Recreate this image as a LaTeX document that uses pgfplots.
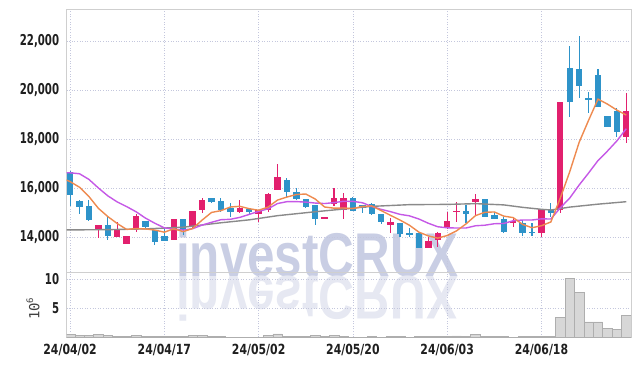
\documentclass[border=0pt]{standalone}
\usepackage{fontspec}
\usepackage{pgfplots}
\usepackage{pgfplotstable}
\pgfplotsset{compat=1.18}
\newfontfamily\tickfontY{DejaVu Sans}[FakeStretch=0.68]
\newfontfamily\tickfontX{DejaVu Sans}[FakeStretch=0.78]
\newfontfamily\wmfont{Liberation Sans}
\newfontfamily\labmono{DejaVu Sans Mono}
\definecolor{upc}{HTML}{E2206E}
\definecolor{dnc}{HTML}{2E93C9}
\definecolor{maf}{HTML}{EE8A4F}
\definecolor{mam}{HTML}{C558E6}
\definecolor{mal}{HTML}{8A8A8A}
\definecolor{gridc}{HTML}{C4C7DD}
\definecolor{framec}{HTML}{CFCFCF}
\definecolor{wm}{HTML}{C9CEE4}
\definecolor{wmr}{HTML}{E6E8F2}
\definecolor{volf}{HTML}{D7D7D7}
\definecolor{vold}{HTML}{AEAEAE}
\pgfdeclarelayer{background}
\pgfsetlayers{background,main}

\pgfplotstableread{
i o h l c
3 14330 14500 13960 14490
5 13990 14610 13990 14285
6 13710 14060 13700 14040
7 14380 14930 14220 14860
11 13880 14740 13880 14735
13 14420 15060 14380 15060
14 15100 15590 14980 15510
18 15030 15510 14980 15200
20 14940 15100 14620 15100
21 15100 15780 15030 15740
22 15920 16970 15900 16460
27 14730 14830 14720 14830
28 15330 15990 15270 15580
29 15100 15780 14720 15580
34 14490 14760 14180 14600
38 13540 14010 13540 13850
39 13880 14210 13580 14150
40 14420 15030 14310 14650
41 15020 15440 14620 15070
43 15440 15750 14900 15540
47 14560 14760 14420 14650
50 14150 15130 14010 15130
52 15100 19520 14990 19520
59 18070 19870 17850 19140
}\up

\pgfplotstableread{
i o h l c
0 16650 16680 15280 15710
1 15480 15520 14940 15240
2 15265 15500 14650 14690
4 14490 14830 13880 14040
8 14650 14650 14330 14420
9 14285 14285 13670 13810
10 14050 14420 13830 13850
12 14735 14735 14100 14285
15 15600 15600 15400 15420
16 15470 15580 15000 15100
17 15170 15375 14830 15030
19 15140 15200 14950 15030
23 16330 16400 15580 15820
24 15820 15990 15500 15540
25 15540 15540 15200 15210
26 15300 15300 14490 14720
30 15580 15620 15050 15070
31 15300 15300 14970 15170
32 15350 15400 14900 14940
33 14940 14940 14530 14625
35 14560 14560 14010 14120
36 14175 14350 14010 14110
37 14175 14175 13540 13540
42 15060 15300 14580 14950
44 15540 15540 14830 14830
45 14900 15030 14720 14720
46 14720 14800 14150 14220
48 14560 14690 14040 14150
49 14220 14580 14040 14150
51 15100 15375 14830 14990
53 20885 21800 18885 19520
54 20845 22200 19660 20160
55 19690 19930 19050 19610
56 20610 20840 19300 19320
57 18940 18940 18500 18500
58 19140 19260 18090 18300
}\dn

\pgfplotstableread{
i v
0 0.55
1 0.3
2 0.3
3 0.45
4 0.3
5 0.12
6 0.12
7 0.3
8 0.12
9 0.1
10 0.1
11 0.1
12 0.1
13 0.3
14 0.3
15 0.12
16 0.12
17 0.05
18 0.05
19 0.05
20 0.05
21 0.3
22 0.6
23 0.12
24 0.12
25 0.1
26 0.3
27 0.1
28 0.3
29 0.12
30 0.05
31 0.05
32 0.12
33 0.05
34 0.12
35 0.12
36 0.05
37 0.12
38 0.12
39 0.12
40 0.12
41 0.25
42 0.12
43 0.45
44 0.12
45 0.12
46 0.12
47 0.05
48 0.12
49 0.12
50 0.12
51 0.12
52 3.45
53 10.17
54 7.76
55 2.64
56 2.64
57 1.55
58 1.38
59 3.79
}\vol

\pgfplotsset{
  candlewick/.style={forget plot, mark=none, draw=none,
    error bars/.cd, y dir=both, y explicit, error mark=none,
    error bar style={draw=#1, line width=1.1bp, solid}},
  candlebody/.style={forget plot, mark=none, draw=none,
    error bars/.cd, y dir=both, y explicit, error mark=none,
    error bar style={draw=#1, line width=6.4bp, solid}},
}

\begin{document}
\begin{tikzpicture}
\begin{axis}[
  name=price,
  scale only axis, width=564.3bp, height=263bp,
  xmin=-0.36, xmax=59.5, ymin=12560, ymax=23290,
  axis line style={draw=framec, line width=0.8bp},
  xtick={0,10,20,30,40,50}, xticklabels={,,,,,},
  ytick={14000,16000,18000,20000,22000},
  scaled y ticks=false,
  /pgf/number format/1000 sep={,},
  /pgf/number format/assume math mode=true,
  yticklabel style={font=\tickfontY\bfseries\fontsize{15}{15}\selectfont, text=black!88, anchor=east, inner sep=0pt, xshift=-7.4bp},
  major tick length=0pt,
  grid=major,
  major grid style={draw=gridc, dash pattern=on 1bp off 1.6bp, line width=0.6bp},
]
\addplot[candlewick=dnc] table[x=i, y expr={(\thisrow{h}+\thisrow{l})/2}, y error expr={(\thisrow{h}-\thisrow{l})/2}] {\dn};
\addplot[candlewick=upc] table[x=i, y expr={(\thisrow{h}+\thisrow{l})/2}, y error expr={(\thisrow{h}-\thisrow{l})/2}] {\up};
\addplot[candlebody=dnc] table[x=i, y expr={(\thisrow{o}+\thisrow{c})/2}, y error expr={max(abs(\thisrow{c}-\thisrow{o})/2,35)}] {\dn};
\addplot[candlebody=upc] table[x=i, y expr={(\thisrow{o}+\thisrow{c})/2}, y error expr={max(abs(\thisrow{c}-\thisrow{o})/2,35)}] {\up};
% long moving average
\addplot[mal, line width=1.4bp, mark=none] coordinates {
(-1,14285) (0,14290) (4,14300) (8,14330) (12,14400) (16,14580) (19,14700) (22,14870) (26,15030) (29,15140) (32,15250) (36,15320) (40,15330) (43,15360) (46,15310) (48,15210) (50,15130) (51,15100) (53,15220) (56,15340) (59,15440)};
% 10-day
\addplot[mam, line width=1.4bp, mark=none] coordinates {
(-1,16620) (0,16620) (1,16580) (2,16350) (3,16000) (4,15680) (5,15430) (6,15240) (7,15030) (8,14770) (9,14559) (10,14373) (11,14322) (12,14282) (13,14339) (14,14486) (15,14599) (16,14705) (17,14722) (18,14800) (19,14922) (20,15047) (21,15148) (22,15365) (23,15441) (24,15444) (25,15423) (26,15385) (27,15365) (28,15403) (29,15458) (30,15455) (31,15398) (32,15246) (33,15127) (34,15033) (35,14924) (36,14863) (37,14734) (38,14561) (39,14418) (40,14376) (41,14366) (42,14367) (43,14458) (44,14481) (45,14541) (46,14552) (47,14663) (48,14693) (49,14693) (50,14741) (51,14733) (52,15190) (53,15588) (54,16121) (55,16610) (56,17120) (57,17505) (58,17920) (59,18419)};
% 5-day
\addplot[maf, line width=1.4bp, mark=none] coordinates {
(-1,16420) (0,16260) (1,16030) (2,15650) (3,15170) (4,14834) (5,14549) (6,14309) (7,14343) (8,14329) (9,14283) (10,14196) (11,14335) (12,14220) (13,14348) (14,14688) (15,15002) (16,15075) (17,15224) (18,15252) (19,15156) (20,15092) (21,15220) (22,15506) (23,15630) (24,15732) (25,15754) (26,15550) (27,15224) (28,15176) (29,15184) (30,15156) (31,15246) (32,15268) (33,15077) (34,14881) (35,14691) (36,14479) (37,14199) (38,14044) (39,13954) (40,14060) (41,14252) (42,14534) (43,14872) (44,15008) (45,15022) (46,14852) (47,14792) (48,14514) (49,14378) (50,14460) (51,14614) (52,15588) (53,16662) (54,17864) (55,18760) (56,19626) (57,19422) (58,19178) (59,18974)};
\end{axis}

\begin{axis}[
  name=vol, at={(price.south west)}, anchor=north west,
  scale only axis, width=564.3bp, height=65bp,
  xmin=-0.36, xmax=59.5, ymin=0, ymax=11.2,
  axis line style={draw=framec, line width=0.8bp},
  xtick={0,10,20,30,40,50},
  xticklabels={24/04/02,24/04/17,24/05/02,24/05/20,24/06/03,24/06/18},
  xticklabel style={font=\tickfontX\bfseries\fontsize{14}{14}\selectfont, text=black!88, anchor=north, inner sep=0pt, yshift=-7bp},
  ytick={5,10},
  /pgf/number format/assume math mode=true,
  yticklabel style={font=\tickfontY\bfseries\fontsize{15}{15}\selectfont, text=black!88, anchor=east, inner sep=0pt, xshift=-7.4bp},
  major tick length=0pt,
  grid=major,
  major grid style={draw=gridc, dash pattern=on 1bp off 1.6bp, line width=0.6bp},
]
\addplot[ybar, bar width=9.43bp, fill=volf, draw=vold, line width=0.5bp] table[x=i, y=v] {\vol};
\end{axis}

\node[rotate=90, font=\labmono\fontsize{14}{14}\selectfont, text=black!75, inner sep=0pt] at ([shift={(-33.7bp,-4bp)}]vol.west) {10\raisebox{0.45em}{\fontsize{9}{9}\selectfont 6}};

\begin{pgfonlayer}{background}
\node[anchor=base, inner sep=0pt, text=wm, font=\wmfont\bfseries\fontsize{62}{62}\selectfont, xscale=0.8] at ([shift={(250.8bp,-4.7bp)}]price.south west) {investCRUX};
\node[anchor=base, inner sep=0pt, text=wmr, font=\wmfont\bfseries\fontsize{62}{62}\selectfont, xscale=0.8, yscale=-1] at ([shift={(250.8bp,-4.7bp)}]price.south west) {investCRUX};
\end{pgfonlayer}

\pgfresetboundingbox
\path[use as bounding box] ([shift={(-66.7bp,9.3bp)}]price.north west) rectangle ([shift={(8bp,-28.7bp)}]vol.south east);
\end{tikzpicture}
\end{document}
